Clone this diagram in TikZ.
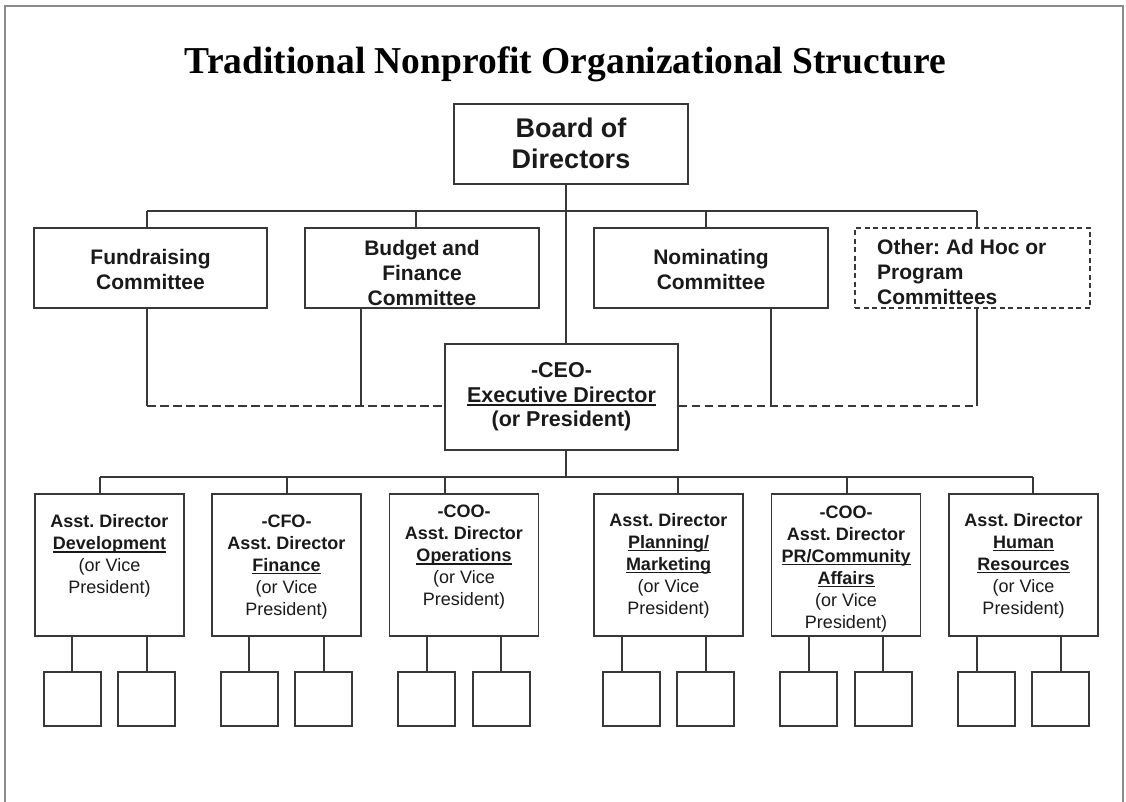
\documentclass[tikz,border=0pt]{standalone}
\usepackage{fontspec}
\setmainfont{Liberation Sans}
\newfontfamily\titlefont{Liberation Serif}
\usepackage{graphicx}
\definecolor{linec}{HTML}{383838}
\definecolor{framec}{HTML}{8C8C8C}
\definecolor{textc}{HTML}{1A1A1A}
\newsavebox\ulbox
\newcommand\ulx[1]{\sbox\ulbox{#1}\rlap{\rule[-0.16em]{\wd\ulbox}{0.075em}}\usebox\ulbox}
\frenchspacing
\begin{document}
\frenchspacing
\begin{tikzpicture}[x=1pt,y=-1pt,
  ln/.style={draw=linec,line width=1.7pt},
  dln/.style={draw=linec,line width=1.8pt,dash pattern=on 8.5pt off 4.5pt},
  bx/.style 2 args={draw=linec,line width=1.7pt,fill=white,inner sep=0pt,minimum width=#1,minimum height=#2},
  dbx/.style 2 args={bx={#1}{#2},dash pattern=on 5pt off 3.5pt,line width=1.4pt},
  ctxt/.style={font=\fontsize{21}{25}\selectfont\bfseries,text=textc,align=center,inner sep=0pt},
  ltxt/.style={font=\fontsize{21}{25}\selectfont\bfseries,text=textc,align=left,inner sep=0pt},
  btxt/.style={font=\fontsize{27}{31}\selectfont\bfseries,text=textc,align=center,inner sep=0pt},
  etxt/.style={font=\fontsize{21.5}{24.5}\selectfont\bfseries,text=textc,align=center,inner sep=0pt},
  vtxt/.style={font=\fontsize{18}{22}\selectfont,text=textc,align=center,inner sep=0pt,anchor=north},
]
\useasboundingbox (0,0) rectangle (1126,802);
% frame
\draw[framec,line width=2pt] (5,802) -- (5,6) -- (1123,6) -- (1123,802);

% title
\node[anchor=base,inner sep=0pt] (title) at (565.5,74)
  {\resizebox{761pt}{\height}{\titlefont\bfseries\fontsize{38}{40}\selectfont Traditional Nonprofit Organizational Structure}};

% board
\node[bx={234}{80}] (board) at (571,144) {};
\node[btxt] (boardt) at (571,143.5) {Board of\\Directors};

% committees
\node[bx={233}{80}] (fund) at (150.5,268) {};
\node[bx={234}{80}] (budg) at (422,268) {};
\node[bx={234}{80}] (nomi) at (711,268) {};
\node[dbx={235}{80}] (other) at (972.5,268) {};
\node[ctxt] (fundt) at (150.5,269) {Fundraising\\Committee};
\node[ctxt] (budgt) at (422,272.5) {Budget and\\Finance\\Committee};
\node[ctxt] (nomit) at (711,269) {Nominating\\Committee};
\node[ltxt,anchor=west] (othert) at (877,272) {Other: Ad Hoc or\\Program\\Committees};

% CEO
\node[bx={233}{106}] (ceo) at (561.5,397) {};
\node[etxt] (ceot) at (561.5,397) {-CEO-\\\ulx{Executive Director}\\(or President)};

% spine coordinate
\coordinate (sp) at (566,0);
\draw[ln] (board.south -| sp) -- (ceo.north -| sp);

% top bus
\coordinate (fd) at (147,211);
\coordinate (bd) at (416,211);
\coordinate (nd) at (706,211);
\coordinate (od) at (977,211);
\draw[ln] (fd) -- (od);
\draw[ln] (fd) -- (fd |- fund.north);
\draw[ln] (bd) -- (bd |- budg.north);
\draw[ln] (nd) -- (nd |- nomi.north);
\draw[ln] (od) -- (od |- other.north);

% committee links to CEO
\coordinate (fu) at (147,406);
\coordinate (bu) at (361,406);
\coordinate (nu) at (771,406);
\coordinate (ou) at (977,406);
\draw[ln] (fund.south -| fu) -- (fu);
\draw[ln] (budg.south -| bu) -- (bu);
\draw[ln] (nomi.south -| nu) -- (nu);
\draw[ln] (other.south -| ou) -- (ou);
\draw[dln] (fu) -- (fu -| ceo.west);
\draw[dln] (ceo.east |- ou) -- (ou);

% lower level
\foreach \i/\cx/\dx/\ca in {1/109.5/100/72.25, 2/286.5/287/249.25, 3/464/445/426.75, 4/668.5/678/622, 5/846/847/808.75, 6/1023.5/1033/977}{
  \node[bx={149}{142}] (b\i) at (\cx,565) {};
  \node[bx={57}{54}] (sa\i) at (\cx-37.25,699) {};
  \node[bx={57}{54}] (sb\i) at (\cx+37.25,699) {};
  \coordinate (d\i) at (\dx,477);
  \coordinate (ca\i) at (\ca,699);
  \draw[ln] (d\i) -- (d\i |- b\i.north);
  \draw[ln] (b\i.south -| ca\i) -- (ca\i |- sa\i.north);
  \draw[ln] (b\i.south -| sb\i) -- (sb\i.north);
}
\draw[ln] (d1) -- (d6);
\draw[ln] (ceo.south -| sp) -- (sp |- d1);

\node[vtxt] (t1) at (109.5,514.4) {\textbf{Asst. Director}\\\textbf{\ulx{Development}}\\(or Vice\\President)};
\node[vtxt] (t2) at (286.5,514.4) {\textbf{-CFO-}\\\textbf{Asst. Director}\\\textbf{\ulx{Finance}}\\(or Vice\\President)};
\node[vtxt] (t3) at (464,504.9) {\textbf{-COO-}\\\textbf{Asst. Director}\\\textbf{\ulx{Operations}}\\(or Vice\\President)};
\node[vtxt] (t4) at (668.5,512.9) {\textbf{Asst. Director}\\\textbf{\ulx{Planning/}}\\\textbf{\ulx{Marketing}}\\(or Vice\\President)};
\node[vtxt] (t5) at (846,505.4) {\textbf{-COO-}\\\textbf{Asst. Director}\\\textbf{\ulx{PR/Community}}\\\textbf{\ulx{Affairs}}\\(or Vice\\President)};
\node[vtxt] (t6) at (1023.5,512.9) {\textbf{Asst. Director}\\\textbf{\ulx{Human}}\\\textbf{\ulx{Resources}}\\(or Vice\\President)};
\end{tikzpicture}
\end{document}
